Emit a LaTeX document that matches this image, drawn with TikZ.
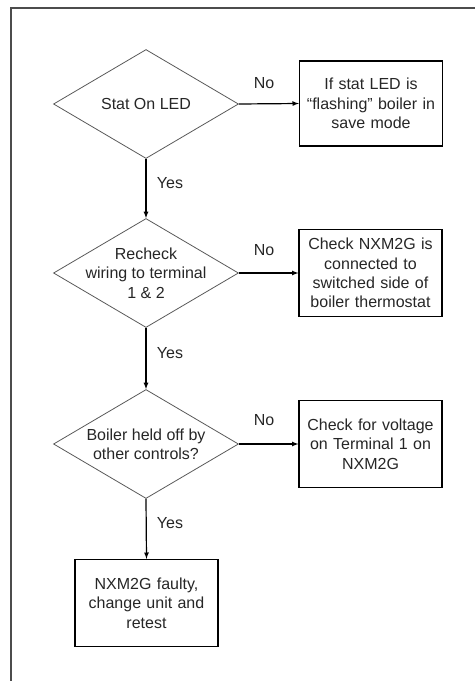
\documentclass[tikz,border=0pt]{standalone}
\usepackage{fontspec}
\setmainfont{Liberation Sans}
\usetikzlibrary{shapes.geometric}

\begin{document}
\begin{tikzpicture}
[%%%%%%%%%%%%%%%%%%%%%%%%%%%%%%
x=1pt,y=-1pt,
every node/.style={font=\fontsize{16}{19.3}\selectfont,text=black!85},
decision/.style={diamond,draw=black!65,line width=0.8pt,minimum width=185pt,minimum height=109pt,inner sep=0pt},
action/.style={rectangle,draw=black,line width=1.2pt,text width=136pt,align=center,minimum height=87pt,inner xsep=3.5pt},
flow/.style={-latex,line width=1.2pt},
]%%%%%%%%%%%%%%%%%%%%%%%%%%%%%%

\useasboundingbox (0,0) rectangle (475,681);
\draw[line width=1.5pt,black!70] (11,681) -- (11,8) -- (475,8);

\node[decision] (stat) at (146,104){};
\node[align=center] (stattxt) at (stat.center){Stat On LED};
\node[decision] (wiring) at (146,273){};
\node[align=center] (wiringtxt) at (wiring.center){Recheck\\wiring to terminal\\1 \& 2};
\node[decision] (held) at (146,444){};
\node[align=center] (heldtxt) at (held.center){Boiler held off by\\other controls?};

\node[action,minimum height=85pt] (flash) at (371,103.5){If stat LED is\\“flashing” boiler in\\save mode};
\node[action] (switched) at (370.5,273){Check NXM2G is\\connected to\\switched side of\\boiler thermostat};
\node[action] (voltage) at (370.5,444){Check for voltage\\on Terminal 1 on\\NXM2G};
\node[action] (faulty) at (146.5,603){NXM2G faulty,\\change unit and\\retest};

\draw[flow] (stat.east) -- (flash.west);
\draw[flow] (wiring.east) -- (switched.west);
\draw[flow] (held.east) -- (voltage.west);
\draw[flow] (stat.south) -- (wiring.north);
\draw[flow] (wiring.south) -- (held.north);
\draw[flow] (held.south) -- (faulty.north);

\node (no1) at (264,83){No};
\node (no2) at (264,250){No};
\node (no3) at (264,420){No};
\node (yes1) at (170,183){Yes};
\node (yes2) at (170,353){Yes};
\node (yes3) at (170,523){Yes};
\end{tikzpicture}
\end{document}
